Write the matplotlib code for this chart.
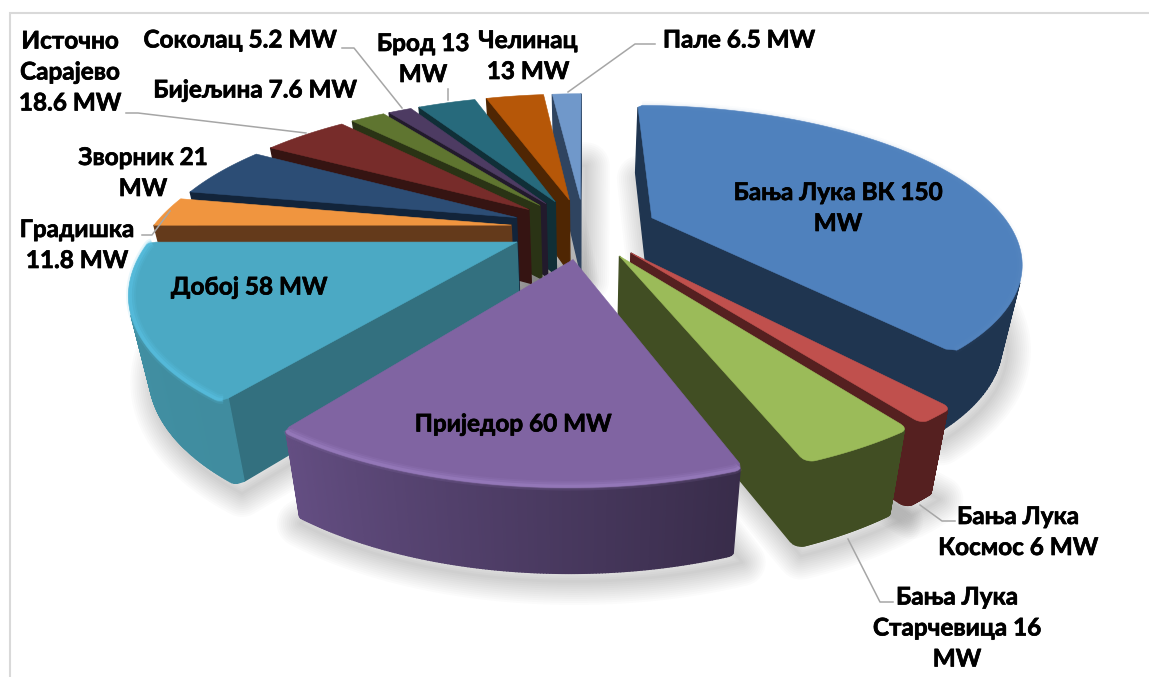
"""3D exploded pie of installed capacity per location (MW)."""

import matplotlib
matplotlib.use("Agg")

import numpy as np
import matplotlib.pyplot as plt
import matplotlib.patheffects as pe
from matplotlib.colors import to_rgb
from matplotlib.patches import Polygon, Rectangle

LABELS = ["Бања Лука ВК 150\nMW", "Бања Лука\nКосмос 6 MW", "Бања Лука\nСтарчевица 16\nMW",
          "Приједор 60 MW", "Добој 58 MW", "Градишка\n11.8 MW", "Зворник 21\nMW",
          "Источно\nСарајево\n18.6 MW", "Бијељина 7.6 MW", "Соколац 5.2 MW",
          "Брод 13\nMW", "Челинац\n13 MW", "Пале 6.5 MW"]
VALUES = [150, 6, 16, 60, 58, 11.8, 21, 18.6, 7.6, 5.2, 13, 13, 6.5]

TOP_COLORS = ["#4F81BD", "#C0504D", "#9BBB59", "#8064A2", "#4BA9C4", "#F0953F", "#2C4D75",
              "#772C2A", "#5F7530", "#4D3B62", "#276A7C", "#B65708", "#7098CA"]
SIDE_COLORS = ["#1F3550", "#552020", "#414E23", "#4E3D66", "#33707F", "#643A1B", "#12243A",
               "#351412", "#2A3315", "#221A2C", "#102F37", "#4F2603", "#2F4460"]
# rim brightness at the start and end of each slice
RIM_SHADE = [(1, 1), (1, 1), (1, 1), (0.72, 1.28), (1.25, 1.3), (1, 1), (1, 1),
             (1, 1), (1, 1), (1, 1), (1, 1), (1, 1), (1, 1)]
# bevel highlight colour and strength along the outer arc
BEVEL = [("#6E9AD0", 0.2), (None, 0), (None, 0), ("#A88BCE", 0.8), ("#5CC6E8", 1.0), (None, 0),
         (None, 0), (None, 0), (None, 0), (None, 0), (None, 0), (None, 0), (None, 0)]
# corner rounding of the outer arc, in pie radii
CORNER = [0.02, 0.02, 0.022, 0.02, 0.02, 0, 0, 0, 0, 0, 0, 0, 0]

# text centre for each label, in pixels
LABEL_POS = [(838, 208), (1018, 532), (957, 628), (513, 424), (249, 287), (77, 245), (143, 173),
             (70, 72), (255, 90), (240, 40), (423, 59), (528, 56), (739, 40)]

LEADERS = [
    [(342, 48), (354, 48), (402, 108)],
    [(126, 113), (138, 113), (306, 133)],
    [(448, 89), (448, 100)],
    [(655, 44), (635, 44), (568, 92)],
    [(142, 235), (152, 235), (170, 211)],
    [(920, 505), (942, 521), (955, 521)],
    [(848, 539), (880, 602), (893, 602)],
]

CX, CY = 584, 228
SCALE_X, SCALE_Y = 359, 147
PERSP = 0.265
EXPLODE = 0.205
DRAW_ORDER = [12, 11, 10, 9, 8, 7, 6, 5, 0, 1, 2, 4, 3]


def project(x, y):
    w = 1 + PERSP * y
    return CX + SCALE_X * x / w, CY - SCALE_Y * y / w


def drop(px, py, y):
    # the underside of the pie sits lower and converges slightly to the centre
    return CX + (px - CX) * 0.955, py + 75 - 9 * y


def scaled(color, f):
    rgb = np.array(to_rgb(color)) * f
    return tuple(np.clip(rgb, 0, 1))


def slice_outline(a0, a1, corner=0.0, n=160):
    mid = np.radians((a0 + a1) / 2)
    ox, oy = EXPLODE * np.sin(mid), EXPLODE * np.cos(mid)
    ang = np.radians(np.linspace(a0, a1, n))
    r = np.ones(n)
    if corner > 0:
        # pull the radius in near both ends so the corners come out round
        dist = np.minimum(ang - ang[0], ang[-1] - ang)
        u = np.clip(dist / corner, 0, 1)
        r = 1 - corner * (1 - np.sqrt(1 - (1 - u) ** 2))
    xs = np.concatenate([[ox], ox + r * np.sin(ang)])
    ys = np.concatenate([[oy], oy + r * np.cos(ang)])
    return xs, ys


def draw_slice(ax, a0, a1, top, side, shade, bevel, corner):
    xs, ys = slice_outline(a0, a1, corner)
    px, py = project(xs, ys)
    bx, by = drop(px, py, ys)
    n = len(px)
    for i in range(n):
        j = (i + 1) % n
        quad = [(px[i], py[i]), (px[j], py[j]), (bx[j], by[j]), (bx[i], by[i])]
        q = np.array(quad)
        area = np.sum(q[:, 0] * np.roll(q[:, 1], -1) - np.roll(q[:, 0], -1) * q[:, 1])
        if area >= 0:
            continue
        if 0 < i < n - 1:
            f = shade[0] + (shade[1] - shade[0]) * (i - 1) / (n - 3)
            col = scaled(side, f)
        else:
            col = side
        ax.add_patch(Polygon(quad, closed=True, facecolor=col, edgecolor=col, linewidth=1.0))
    ax.add_patch(Polygon(np.column_stack([px, py]), closed=True, facecolor=top,
                         edgecolor=top, linewidth=0.4))
    if bevel[0]:
        arc = np.arange(2, n - 1)
        for inset, lw, alpha in [(0.006, 7, 0.14), (0.006, 4.5, 0.24), (0.004, 2.4, 0.4)]:
            hx, hy = project(xs[0] + (xs[arc] - xs[0]) * (1 - inset), ys[0] + (ys[arc] - ys[0]) * (1 - inset))
            ax.plot(hx, hy, color=bevel[0], lw=lw, alpha=alpha * bevel[1], solid_capstyle="butt")


def draw_shadow(ax, a0, a1):
    xs, ys = slice_outline(a0, a1, 0.0, 40)
    px, py = project(xs, ys)
    bx, by = drop(px, py, ys)
    pts = np.column_stack([bx + 5, by + 8])
    for lw in np.linspace(34, 2, 12):
        ax.add_patch(Polygon(pts, closed=True, facecolor="none", edgecolor=(0, 0, 0, 0.016),
                             linewidth=lw, joinstyle="round"))


def main():
    plt.rcParams["font.family"] = ["Lato", "Open Sans", "DejaVu Sans"]

    fig = plt.figure(figsize=(11.49, 6.77), dpi=100, facecolor="white")
    ax = fig.add_axes([0, 0, 1, 1])
    ax.set_xlim(0, 1149)
    ax.set_ylim(677, 0)
    ax.axis("off")

    ax.add_patch(Rectangle((9.5, 13), 1200, 700, facecolor="white", edgecolor="#D9D9D9", linewidth=1.5))

    edges = np.concatenate([[0], np.cumsum(VALUES)]) / np.sum(VALUES) * 360

    for i in range(len(VALUES)):
        draw_shadow(ax, edges[i], edges[i + 1])
    for i in DRAW_ORDER:
        draw_slice(ax, edges[i], edges[i + 1], TOP_COLORS[i], SIDE_COLORS[i], RIM_SHADE[i], BEVEL[i], CORNER[i])

    for pts in LEADERS:
        xs, ys = zip(*pts)
        ax.plot(xs, ys, color="#A6A6A6", lw=1.1)

    for label, (x, y) in zip(LABELS, LABEL_POS):
        ax.text(x, y, label, ha="center", va="center", fontsize=17.5, fontweight="bold",
                color="black", linespacing=1.42, multialignment="center",
                path_effects=[pe.withStroke(linewidth=0.5, foreground="black")])

    fig.savefig("out.png", dpi=100, facecolor="white")


if __name__ == "__main__":
    main()
